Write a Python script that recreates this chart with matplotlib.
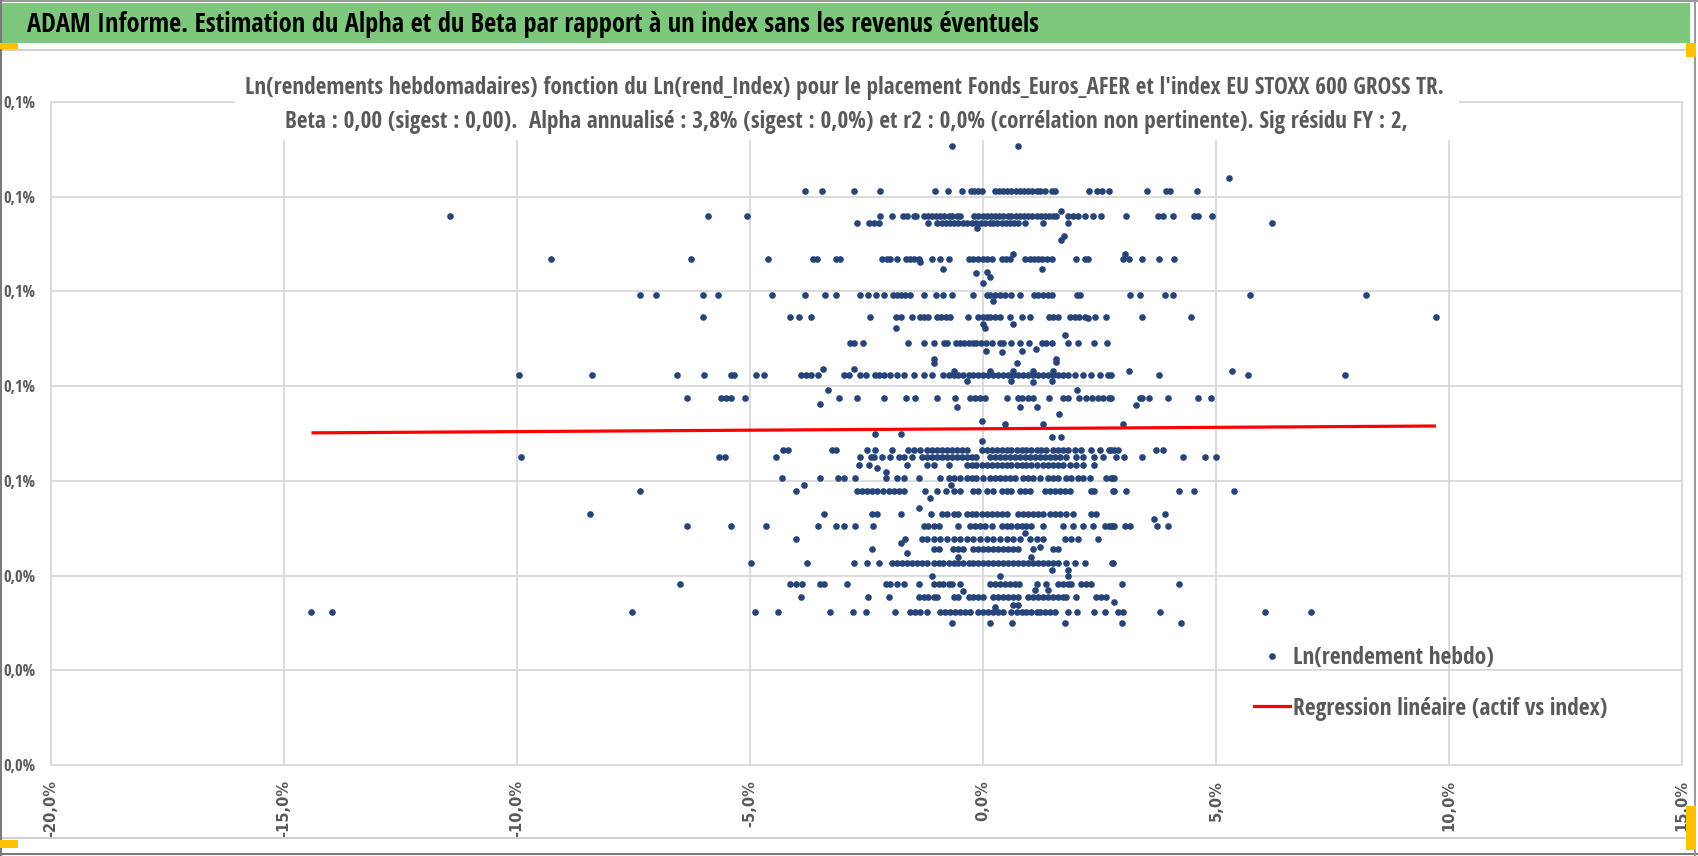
import os
import numpy as np
import matplotlib
matplotlib.use('Agg')
import matplotlib.pyplot as plt
import matplotlib.font_manager as fm
from matplotlib.font_manager import FontProperties
from matplotlib.textpath import TextPath
from matplotlib.lines import Line2D
from matplotlib.patches import Rectangle
from matplotlib.ticker import FuncFormatter, FixedLocator

# ---------------- data (values in %) ----------------
header_title = "ADAM Informe. Estimation du Alpha et du Beta par rapport à un index sans les revenus éventuels"
chart_title_1 = ("Ln(rendements hebdomadaires) fonction du Ln(rend_Index) pour le placement "
                 "Fonds_Euros_AFER et l'index EU STOXX 600 GROSS TR.")
chart_title_2 = ("Beta : 0,00 (sigest : 0,00).  Alpha annualisé : 3,8% (sigest : 0,0%) et r2 : 0,0% "
                 "(corrélation non pertinente). Sig résidu FY : 2,")
legend_labels = ["Ln(rendement hebdo)", "Regression linéaire (actif vs index)"]

x_ticks = [-20, -15, -10, -5, 0, 5, 10, 15]
y_ticks = [0.0, 0.02, 0.04, 0.06, 0.08, 0.10, 0.12, 0.14]

# weekly fund log-returns are quantised: one y level per row, index returns per row
row_levels = [0.1307, 0.1239, 0.1213, 0.1160, 0.1145, 0.1069, 0.0992, 0.0947, 0.0891,
              0.0823, 0.0776, 0.0665, 0.0651, 0.0634, 0.0605, 0.0578, 0.0531, 0.0505,
              0.0477, 0.0456, 0.0427, 0.0383, 0.0354, 0.0323, 0.0300]
row_index_returns = [
    [-0.66, 0.75],
    [5.27],
    [-3.81, -3.46, -2.76, -2.22, -1.03, -0.75, -0.46, -0.26, -0.19, -0.10, -0.03, 0.26, 0.34,
     0.43, 0.52, 0.61, 0.71, 0.79, 0.88, 0.97, 1.06, 1.15, 1.23, 1.32, 1.47, 1.54, 2.27, 2.44,
     2.56, 2.71, 3.52, 3.92, 4.01, 4.59],
    [-11.44, -5.90, -5.07, -2.20, -1.95, -1.72, -1.63, -1.49, -1.43, -1.27, -1.18, -1.10, -1.01,
     -0.92, -0.83, -0.74, -0.66, -0.56, -0.49, -0.19, -0.10, -0.01, 0.08, 0.17, 0.26, 0.35, 0.43,
     0.53, 0.61, 0.71, 0.79, 0.88, 0.97, 1.06, 1.15, 1.24, 1.32, 1.42, 1.50, 1.57, 1.82, 1.93,
     2.04, 2.18, 2.37, 2.54, 3.07, 3.75, 3.87, 4.08, 4.52, 4.62, 4.92],
    [-2.71, -2.45, -2.33, -2.24, -1.19, -0.98, -0.88, -0.80, -0.71, -0.62, -0.53, -0.42, -0.35,
     -0.24, -0.14, -0.04, 0.04, 0.14, 0.22, 0.31, 0.40, 0.49, 0.58, 0.67, 0.75, 0.90, 1.29, 1.82,
     6.20],
    [-9.26, -6.27, -4.61, -3.64, -3.56, -3.16, -3.07, -2.17, -2.07, -1.99, -1.84, -1.65, -1.56,
     -1.47, -1.38, -1.10, -0.92, -0.73, -0.29, -0.21, -0.11, -0.01, 0.09, 0.19, 0.40, 0.49, 0.58,
     0.90, 1.00, 1.10, 1.18, 1.27, 1.38, 1.47, 2.00, 2.18, 2.25, 3.00, 3.14, 3.41, 3.77, 4.10],
    [-7.36, -7.02, -6.00, -5.68, -4.52, -3.82, -3.39, -3.16, -2.65, -2.47, -2.29, -2.13, -1.93,
     -1.84, -1.75, -1.67, -1.57, -1.26, -1.01, -0.85, -0.67, -0.21, 0.08, 0.16, 0.26, 0.36, 0.47,
     0.61, 0.80, 1.09, 1.18, 1.29, 1.40, 1.49, 2.02, 2.09, 3.16, 3.36, 3.91, 4.08, 5.73, 8.22],
    [-6.01, -4.14, -3.95, -3.70, -2.43, -1.86, -1.77, -1.52, -1.35, -1.26, -1.17, -0.99, -0.90,
     -0.79, -0.71, -0.33, -0.10, -0.01, 0.08, 0.16, 0.26, 0.36, 0.58, 0.83, 1.00, 1.42, 1.50,
     1.61, 1.87, 1.97, 2.07, 2.18, 2.41, 2.63, 3.41, 4.47, 9.72],
    [-2.86, -2.77, -2.57, -1.60, -1.26, -1.06, -0.83, -0.78, -0.58, -0.49, -0.40, -0.31, -0.22,
     -0.14, -0.04, 0.06, 0.19, 0.36, 0.43, 0.61, 0.79, 0.99, 1.27, 1.36, 1.49, 1.82, 2.04, 2.39,
     2.66],
    [-9.96, -8.40, -6.57, -5.99, -5.41, -5.34, -4.87, -4.71, -3.91, -3.80, -3.70, -3.55, -2.98,
     -2.88, -2.63, -2.52, -2.31, -2.24, -2.13, -1.99, -1.84, -1.70, -1.49, -1.27, -1.10, -0.85,
     -0.74, -0.63, -0.53, -0.42, -0.31, -0.21, -0.10, 0.01, 0.11, 0.22, 0.33, 0.43, 0.54, 0.65,
     0.75, 0.86, 0.97, 1.08, 1.18, 1.29, 1.40, 1.50, 1.61, 1.72, 1.82, 1.97, 2.14, 2.32, 2.50,
     2.68, 2.75, 3.77, 5.69, 7.77],
    [-6.36, -5.62, -5.51, -5.41, -5.10, -3.09, -2.70, -2.13, -1.65, -1.45, -0.99, -0.60, -0.28,
     -0.17, -0.06, 0.04, 0.51, 0.75, 0.83, 0.97, 1.08, 1.42, 1.72, 1.82, 2.07, 2.22, 2.34, 2.46,
     2.57, 2.71, 2.75, 3.37, 3.42, 3.57, 3.96, 4.62, 4.90],
    [-4.30, -4.18, -3.23, -3.16, -2.49, -2.31, -1.95, -1.60, -1.49, -1.35, -1.20, -1.10, -0.99,
     -0.88, -0.78, -0.67, -0.56, -0.46, -0.35, -0.03, 0.08, 0.19, 0.29, 0.40, 0.51, 0.61, 0.72,
     0.83, 0.93, 1.04, 1.15, 1.25, 1.36, 1.50, 1.61, 1.72, 1.82, 1.97, 2.11, 2.32, 2.50, 2.71,
     2.89, 2.75, 2.82, 3.71, 3.87],
    [-9.92, -5.66, -5.53, -4.44, -2.64, -2.41, -2.34, -2.17, -1.99, -1.81, -1.70, -1.52, -1.31,
     -1.20, -1.10, -0.99, -0.88, -0.78, -0.67, -0.56, -0.46, -0.35, -0.24, -0.14, 0.15, 0.26,
     0.36, 0.47, 0.58, 0.68, 0.79, 0.90, 1.00, 1.11, 1.22, 1.32, 1.43, 1.54, 1.65, 1.79, 2.00,
     2.14, 2.39, 2.57, 2.86, 3.02, 3.42, 4.29, 4.76, 5.01],
    [-2.66, -2.45, -1.63, -1.20, -1.06, -0.74, -0.35, -0.24, -0.14, -0.03, 0.08, 0.19, 0.29,
     0.40, 0.51, 0.61, 0.72, 0.83, 0.93, 1.04, 1.15, 1.29, 1.40, 1.50, 1.61, 1.72, 1.86, 2.00,
     2.14, 2.39],
    [-4.32, -3.50, -3.12, -2.98, -2.74, -2.09, -1.84, -1.69, -1.38, -0.93, -0.74, -0.63, -0.49,
     -0.35, -0.24, -0.14, -0.01, 0.15, 0.26, 0.36, 0.47, 0.58, 0.68, 0.86, 0.97, 1.08, 1.22,
     1.40, 1.50, 1.61, 1.79, 1.89, 2.04, 2.14, 2.29, 2.64, 2.75, 2.80, 2.82],
    [-7.36, -4.02, -2.70, -2.59, -2.49, -2.38, -2.27, -2.14, -2.02, -1.92, -1.81, -1.70, -1.24,
     -0.99, -0.79, -0.63, -0.49, -0.21, -0.10, 0.08, 0.22, 0.40, 0.51, 0.61, 0.79, 0.90, 1.00,
     1.32, 1.43, 1.54, 1.65, 1.75, 1.86, 2.32, 2.39, 2.78, 2.81, 3.07, 4.21, 4.52, 5.38],
    [-8.44, -3.41, -2.38, -2.27, -1.77, -1.12, -0.88, -0.78, -0.63, -0.53, -0.35, -0.24, -0.14,
     -0.03, 0.08, 0.19, 0.29, 0.40, 0.51, 0.75, 0.86, 0.97, 1.08, 1.18, 1.29, 1.43, 1.54, 1.65,
     1.79, 1.93, 2.32, 2.43, 3.91],
    [-6.36, -5.41, -4.66, -3.55, -3.16, -2.98, -2.74, -2.36, -1.27, -1.17, -1.06, -0.95, -0.53,
     -0.28, -0.17, -0.06, 0.04, 0.19, 0.40, 0.51, 0.61, 0.72, 0.83, 0.93, 1.04, 1.29, 1.72, 1.93,
     2.14, 2.36, 2.61, 2.71, 2.75, 2.80, 2.82, 3.05, 3.15, 3.73, 3.98],
    [-4.02, -1.67, -1.31, -1.20, -1.06, -0.92, -0.78, -0.63, -0.49, -0.35, -0.21, -0.06, 0.08,
     0.22, 0.36, 0.51, 0.65, 0.79, 1.00, 1.15, 1.29, 1.75, 1.89, 2.04, 2.46],
    [-2.38, -1.06, -0.95, -0.65, -0.53, -0.42, -0.21, -0.10, 0.01, 0.11, 0.22, 0.33, 0.43, 0.54,
     0.65, 0.75, 1.08, 1.50, 1.61],
    [-4.98, -3.77, -2.76, -2.49, -2.24, -1.95, -1.84, -1.74, -1.63, -1.52, -1.42, -1.31, -1.20,
     -1.06, -0.95, -0.85, -0.74, -0.63, -0.53, -0.42, -0.31, -0.21, -0.10, 0.01, 0.11, 0.22, 0.33,
     0.43, 0.54, 0.65, 0.75, 0.86, 0.97, 1.08, 1.18, 1.29, 1.40, 1.50, 1.61, 1.79, 1.97, 2.18,
     2.78, 2.77],
    [-6.50, -4.14, -4.02, -3.89, -3.50, -3.41, -2.91, -2.09, -1.99, -1.84, -1.70, -1.38, -1.06,
     -0.95, -0.85, -0.74, -0.67, -0.49, 0.15, 0.26, 0.36, 0.47, 0.58, 0.68, 0.78, 1.15, 1.36,
     1.61, 1.72, 1.82, 1.89, 2.11, 2.22, 2.32, 2.98, 4.21],
    [-3.91, -2.47, -2.02, -1.38, -1.27, -1.17, -1.06, -0.98, -0.63, -0.53, -0.31, -0.21, -0.10,
     0.01, 0.22, 0.33, 0.43, 0.54, 0.65, 0.75, 0.97, 1.08, 1.18, 1.29, 1.40, 1.50, 1.61, 1.72,
     1.79, 1.99, 2.43, 2.54, 2.64],
    [-14.41, -13.97, -7.53, -4.89, -4.39, -3.29, -2.80, -2.51, -1.89, -1.56, -1.45, -1.35, -1.20,
     -0.92, -0.81, -0.70, -0.60, -0.49, -0.38, -0.28, -0.10, 0.01, 0.11, 0.22, 0.33, 0.43, 0.61,
     0.72, 0.83, 0.93, 1.04, 1.15, 1.22, 1.32, 1.43, 1.54, 1.82, 2.02, 2.39, 2.61, 2.89, 3.00,
     3.79, 6.06, 7.04],
    [-0.66, 0.14, 0.62, 1.77, 2.98, 4.24],
]

# isolated points between the rows
extra_index_returns = [1.67, -0.12, 1.68, 1.73, -1.35, 0.65, 3.05, -0.86, 1.27, -0.16, 0.08,
                       0.16, -0.01, 0.22, 2.25, -1.87, 0.01, 0.04, 0.65, 1.77, 0.06, 0.40, 0.84,
                       1.13, -1.06, 1.56, 3.14, 5.34, -3.43, -2.77, -0.63, 0.15, 0.65, 1.08,
                       1.50, -1.06, 0.72, 1.57, -0.35, 0.61, 1.08, 1.47, -3.32, -3.50, -0.56,
                       0.79, 1.15, 2.02, 3.28, -0.03, 0.47, 1.29, 1.63, -2.31, -1.77, -0.03,
                       1.47, 1.68, 3.00, -2.27, -2.09, -3.85, -1.13, -0.69, -1.38, 3.66, -1.77,
                       0.90, -1.63, 1.22, -0.53, 1.04, 1.47, 1.82, -1.10, 0.36, 1.82, -0.43,
                       1.11, 1.40, 2.81, 0.75, 0.65, 0.26]
extra_fund_returns = [0.1169, 0.1133, 0.1108, 0.1118, 0.1063, 0.1080, 0.1078, 0.1048, 0.1048,
                      0.1039, 0.1041, 0.1030, 0.1018, 0.0979, 0.0943, 0.0922, 0.0932, 0.0922,
                      0.0932, 0.0909, 0.0874, 0.0872, 0.0874, 0.0879, 0.0857, 0.0857, 0.0832,
                      0.0832, 0.0837, 0.0837, 0.0833, 0.0833, 0.0833, 0.0833, 0.0833, 0.0848,
                      0.0848, 0.0851, 0.0810, 0.0810, 0.0808, 0.0810, 0.0791, 0.0763, 0.0756,
                      0.0756, 0.0756, 0.0791, 0.0761, 0.0726, 0.0721, 0.0721, 0.0741, 0.0700,
                      0.0700, 0.0684, 0.0693, 0.0693, 0.0720, 0.0627, 0.0619, 0.0591, 0.0564,
                      0.0591, 0.0543, 0.0519, 0.0469, 0.0490, 0.0448, 0.0461, 0.0440, 0.0440,
                      0.0411, 0.0411, 0.0399, 0.0399, 0.0399, 0.0367, 0.0369, 0.0369, 0.0345,
                      0.0338, 0.0338, 0.0334]

# regression (weekly alpha in %, beta)
reg_alpha = 0.0710
reg_beta = 0.00006

# ---------------- assemble ----------------
xs = []
ys = []
for lvl, row in zip(row_levels, row_index_returns):
    xs.extend(row)
    ys.extend([lvl] * len(row))
xs.extend(extra_index_returns)
ys.extend(extra_fund_returns)
xs = np.array(xs)
ys = np.array(ys)

# ---------------- figure ----------------
W, H = 1698, 856
fig = plt.figure(figsize=(W / 100, H / 100), dpi=100)
fig.patch.set_facecolor('white')
renderer = fig.canvas.get_renderer()


def fx(p):
    return p / W


def fy(p):
    return 1 - p / H


def fp_sized(base, size):
    p = base.copy()
    p.set_size(size)
    return p


def size_for(text, base, target_px):
    t = fig.text(0, 0, text, fontproperties=fp_sized(base, 20))
    w = t.get_window_extent(renderer).width
    t.remove()
    return 20 * target_px / w


def height_px(text, fp):
    t = fig.text(0, 0, text, fontproperties=fp)
    h = t.get_window_extent(renderer).height
    t.remove()
    return h


def cap_px(fp):
    return TextPath((0, 0), 'H', prop=fp).get_extents().height * 100 / 72


# ---------- font choice: the sans face whose width/height ratio best matches ----------
def _wnum(w):
    if isinstance(w, str):
        return fm.weight_dict.get(w, 400)
    return int(w)


OK_FAMS = ('dejavu sans', 'liberation sans', 'noto sans', 'roboto', 'open sans', 'lato',
           'inter')


def family_ok(fam):
    fam = fam.lower()
    if 'mono' in fam or 'display' in fam or 'serif' in fam.replace('sans', ''):
        return False
    if fam.startswith('noto sans'):
        rest = fam[len('noto sans'):].strip()
        return rest == '' or rest.startswith('cjk') or 'condensed' in rest
    return fam.startswith(OK_FAMS)


entries = [f for f in fm.fontManager.ttflist if f.style == 'normal' and family_ok(f.name)]


def pick_entry(bold_text, target_w, target_cap):
    best = None
    for f in entries:
        if abs(_wnum(f.weight) - 700) > 100:
            continue
        try:
            fp = FontProperties(fname=f.fname)
            s = size_for(bold_text, fp, target_w)
            c = cap_px(fp_sized(fp, s))
        except Exception:
            continue
        d = abs(c - target_cap)
        if best is None or d < best[0]:
            best = (d, f)
    return None if best is None else best[1]


bold_entry = pick_entry(chart_title_1, 1216, 16.7)
if bold_entry is not None:
    FP_BOLD = FontProperties(fname=bold_entry.fname)
    regs = [f for f in entries if f.name == bold_entry.name and f.stretch == bold_entry.stretch]
    regs.sort(key=lambda f: abs(_wnum(f.weight) - 400))
    FP_REG = FontProperties(fname=regs[0].fname) if regs else FP_BOLD
else:
    FP_BOLD = FontProperties(family='DejaVu Sans', weight='bold')
    FP_REG = FontProperties(family='DejaVu Sans')

GRAY = '#595959'
GRID = '#D9D9D9'
DOT = '#264478'

ax = fig.add_axes([fx(51), fy(765), fx(1682) - fx(51), fy(102) - fy(765)])
ax.scatter(xs, ys, s=23, color=DOT, linewidths=0, zorder=3)
xl = np.array([xs.min(), xs.max()])
ax.plot(xl, reg_alpha + reg_beta * xl, color='#FF0000', lw=2.3, zorder=4,
        solid_capstyle='butt')

ax.set_xlim(x_ticks[0], x_ticks[-1])
ax.set_ylim(y_ticks[0], y_ticks[-1])
ax.xaxis.set_major_locator(FixedLocator(x_ticks))
ax.yaxis.set_major_locator(FixedLocator(y_ticks))


def pct(v, _pos=None):
    return f"{v:.1f}%".replace('.', ',')


ax.xaxis.set_major_formatter(FuncFormatter(pct))
ax.yaxis.set_major_formatter(FuncFormatter(pct))
ax.grid(True, color=GRID, lw=1.3, zorder=0)
ax.set_axisbelow(True)
for s in ax.spines.values():
    s.set_color(GRID)
    s.set_linewidth(1.3)
ax.tick_params(axis='both', length=0)
ax.tick_params(axis='y', pad=11, labelcolor=GRAY)
ax.tick_params(axis='x', pad=11, labelcolor=GRAY)
ytick_fp = fp_sized(FP_REG, size_for("0,1%", FP_REG, 32))
for lab in ax.get_yticklabels():
    lab.set_fontproperties(ytick_fp)
for lab in ax.get_xticklabels():
    lab.set_fontfamily(['DejaVu Sans'])
    lab.set_fontweight('bold')
    lab.set_fontsize(10.5)
    lab.set_rotation(90)

# legend
leg_size = size_for(legend_labels[0], FP_BOLD, 201)
leg_fp = fp_sized(FP_BOLD, leg_size)
leg_px = leg_size * 100 / 72
row_h = height_px(legend_labels[0], leg_fp)
handles = [Line2D([], [], ls='none', marker='o', ms=4.8, color=DOT, markeredgewidth=0),
           Line2D([], [], color='#FF0000', lw=2.3)]
leg = ax.legend(handles, legend_labels, loc='upper left',
                bbox_to_anchor=(fx(1254), fy(658 - row_h / 2)), bbox_transform=fig.transFigure,
                frameon=False, borderpad=0, borderaxespad=0, handlelength=36 / leg_px,
                handletextpad=3 / leg_px, labelspacing=(50.6 - row_h) / leg_px,
                prop=leg_fp)
for t in leg.get_texts():
    t.set_color(GRAY)

# chart title with white box over plot area
title_size = 0.5 * (size_for(chart_title_1, FP_BOLD, 1216) + size_for(chart_title_2, FP_BOLD, 1091))
title_fp = fp_sized(FP_BOLD, title_size)
fig.add_artist(Rectangle((fx(235), fy(140)), fx(1459) - fx(235), fy(56) - fy(140),
                         transform=fig.transFigure, facecolor='white', edgecolor='none',
                         zorder=2))
fig.text(fx(844), fy(88), chart_title_1, ha='center', va='center', fontproperties=title_fp,
         color=GRAY, zorder=3)
fig.text(fx(846), fy(122), chart_title_2, ha='center', va='center', fontproperties=title_fp,
         color=GRAY, zorder=3)

# header band
fig.add_artist(Rectangle((fx(2), fy(43)), fx(1690) - fx(2), fy(3) - fy(43),
                         transform=fig.transFigure, facecolor='#7DC87D', edgecolor='none',
                         zorder=1))
head_fp = fp_sized(FP_BOLD, size_for(header_title, FP_BOLD, 1009))
fig.text(fx(27), fy(24), header_title, ha='left', va='center', fontproperties=head_fp,
         color='black', zorder=3)


# frame lines
def hline(y, x0, x1, color, lw):
    fig.add_artist(Line2D([fx(x0), fx(x1)], [fy(y), fy(y)], transform=fig.transFigure,
                          color=color, lw=lw, zorder=1))


def vline(x, y0, y1, color, lw):
    fig.add_artist(Line2D([fx(x), fx(x)], [fy(y0), fy(y1)], transform=fig.transFigure,
                          color=color, lw=lw, zorder=1))


hline(50, 2, 1694, '#D0D0D0', 1.5)
hline(838, 2, 1694, '#D0D0D0', 1.5)
hline(1, 0, 1698, '#9A9A9A', 1.5)
hline(854, 0, 1698, '#7A7A7A', 1.5)
vline(1, 0, 856, '#7A7A7A', 1.5)
vline(1695, 0, 856, '#9A9A9A', 1.5)

# selection handles
for (x0, y0, x1, y1) in [(0, 43, 18, 49), (0, 840, 18, 848), (1686, 43, 1696, 57),
                         (1686, 806, 1696, 850)]:
    fig.add_artist(Rectangle((fx(x0), fy(y1)), fx(x1) - fx(x0), fy(y0) - fy(y1),
                             transform=fig.transFigure, facecolor='#FFC000',
                             edgecolor='none', zorder=4))

fig.savefig('out.png', dpi=100)
